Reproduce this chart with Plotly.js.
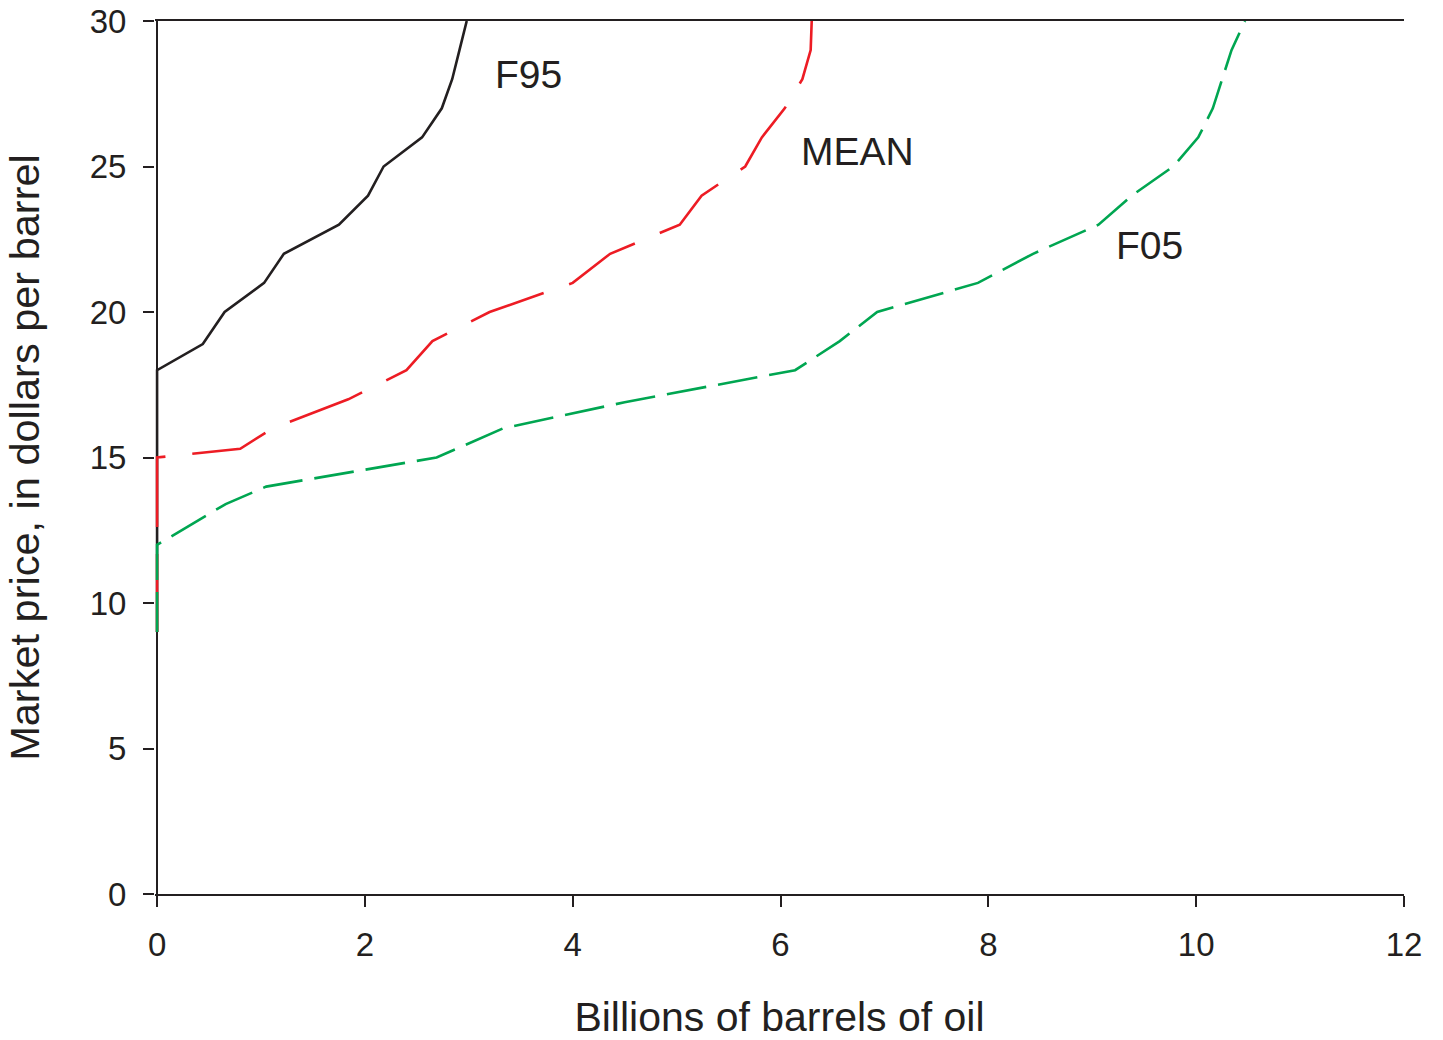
<!DOCTYPE html>
<html>
<head>
<meta charset="utf-8">
<script src="https://cdn.plot.ly/plotly-3.0.1.min.js"></script>
<style>html,body{margin:0;padding:0;background:#fff;}#chart{width:1443px;height:1040px;}</style>
</head>
<body>
<div id="chart"></div>
<script>
// Billions of barrels of oil (x) vs market price in dollars per barrel (y)
const f95X = [0, 0, 0.44, 0.65, 1.03, 1.22, 1.75, 2.03, 2.18, 2.55, 2.74, 2.84, 2.91, 2.98];
const f95Y = [9, 18, 18.9, 20, 21, 22, 23, 24, 25, 26, 27, 28, 29, 30];

const meanX = [0, 0, 0.8, 1.11, 1.84, 2.4, 2.65, 3.2, 4.0, 4.36, 5.03, 5.24, 5.66, 5.82, 6.04, 6.21, 6.29, 6.30];
const meanY = [9, 15, 15.3, 16, 17, 18, 19, 20, 21, 22, 23, 24, 25, 26, 27, 28, 29, 30];

const f05X = [0, 0, 0.66, 1.05, 2.69, 3.33, 4.5, 6.14, 6.57, 6.93, 7.9, 8.43, 9.06, 9.38, 9.78, 10.02, 10.16, 10.25, 10.34, 10.47];
const f05Y = [9, 12, 13.4, 14, 15, 16, 16.9, 18, 19, 20, 21, 22, 23, 24, 25, 26, 27, 28, 29, 30];

const seriesNames = ['F95', 'MEAN', 'F05'];
const labelX = [3.57, 6.74, 9.555];
const labelY = [28.15, 25.5, 22.3];

const xTicks = [0, 2, 4, 6, 8, 10, 12];
const yTicks = [0, 5, 10, 15, 20, 25, 30];

const ink = '#231f20';
const fontFam = '"Liberation Sans", Arial, sans-serif';

const traces = [
  {x: f95X, y: f95Y, name: seriesNames[0], mode: 'lines', line: {color: '#231f20', width: 2.6}},
  {x: meanX, y: meanY, name: seriesNames[1], mode: 'lines', line: {color: '#ed1c24', width: 2.6, dash: '78px,27px'}},
  {x: f05X, y: f05Y, name: seriesNames[2], mode: 'lines', line: {color: '#00a651', width: 2.6, dash: '40px,12px'}}
];

const annotations = seriesNames.map((n, i) => ({
  x: labelX[i], y: labelY[i], xref: 'x', yref: 'y', text: n, showarrow: false,
  font: {family: fontFam, size: 39, color: ink}
}));

const layout = {
  width: 1443, height: 1040,
  margin: {l: 155, r: 39, t: 21, b: 146},
  paper_bgcolor: '#fff', plot_bgcolor: '#fff',
  showlegend: false,
  font: {family: fontFam, color: ink},
  xaxis: {
    range: [-0.02, 12], tickvals: xTicks, ticktext: xTicks.map(String),
    showline: true, mirror: true, linecolor: ink, linewidth: 2,
    ticks: 'outside', ticklen: 11, tickwidth: 2, tickcolor: ink,
    ticklabelstandoff: 9,
    showgrid: false, zeroline: true, zerolinecolor: ink, zerolinewidth: 2,
    tickfont: {family: fontFam, size: 33, color: ink},
    title: {text: 'Billions of barrels of oil', font: {family: fontFam, size: 41, color: ink}, standoff: 44}
  },
  yaxis: {
    range: [0, 30], tickvals: yTicks, ticktext: yTicks.map(String),
    showline: false, ticks: 'outside', ticklen: 11, tickwidth: 2, tickcolor: ink,
    ticklabelstandoff: 10,
    showgrid: false, zeroline: false,
    tickfont: {family: fontFam, size: 33, color: ink},
    title: {text: 'Market price, in dollars per barrel', font: {family: fontFam, size: 41.5, color: ink}, standoff: 37}
  },
  yaxis2: {
    range: [0, 30], overlaying: 'y', side: 'right', anchor: 'x',
    showline: true, linecolor: ink, linewidth: 2, ticks: '', showticklabels: false,
    showgrid: false, zeroline: false
  },
  annotations: annotations
};

Plotly.newPlot('chart', traces, layout, {staticPlot: true, displayModeBar: false});
</script>
</body>
</html>
